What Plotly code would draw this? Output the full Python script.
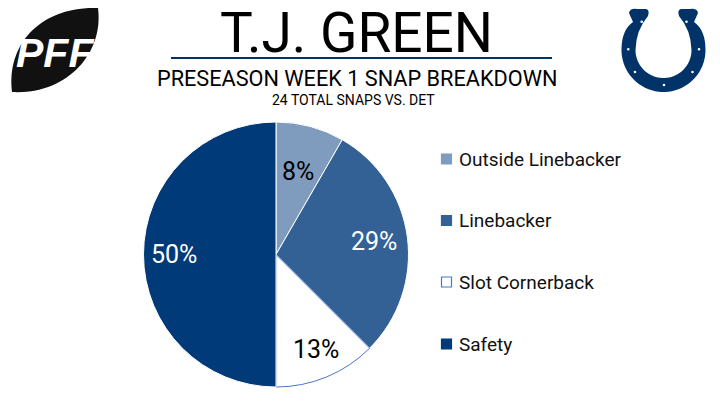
import numpy as np
import plotly.graph_objects as go

# ---- data ----
categories = ["Outside Linebacker", "Linebacker", "Slot Cornerback", "Safety"]
snaps = [2, 7, 3, 12]
slice_colors = ["#7F9CBE", "#336195", "#FFFFFF", "#003A78"]
line_colors = ["#FFFFFF", "#FFFFFF", "#4A78C8", "#FFFFFF"]
text_colors = ["#000000", "#FFFFFF", "#000000", "#FFFFFF"]
title_text = "T.J. GREEN"
subtitle_text = "PRESEASON WEEK 1 SNAP BREAKDOWN"
sub2_text = "24 TOTAL SNAPS VS. DET"

# label placement (style): radial fraction of each percentage label
label_rfrac = [0.65, 0.745, 0.78, 0.77]

W, H = 720, 405
FONT = "Roboto, 'Noto Sans', Arial, sans-serif"

fig = go.Figure()

# pie centred at (276, 254.5) px, radius 132.5 px
cxp, cyp, R = 276, 254.5, 132.5
fig.add_trace(go.Pie(
    labels=categories, values=snaps, sort=False, direction="clockwise", rotation=0,
    marker=dict(colors=slice_colors, line=dict(color=line_colors, width=1)),
    textinfo="none",
    domain=dict(x=[(cxp - R) / W, (cxp + R) / W], y=[(H - cyp - R) / H, (H - cyp + R) / H]),
    showlegend=False, hoverinfo="label+value+percent",
))

# hidden pixel axes for decorations
fig.update_layout(
    xaxis=dict(range=[0, W], visible=False, fixedrange=True, domain=[0, 1]),
    yaxis=dict(range=[H, 0], visible=False, fixedrange=True, domain=[0, 1]),
)

shapes = []
annotations = []

# percentage labels, placed at each slice's mid-angle
total = sum(snaps)
cum = np.cumsum([0] + snaps)
for i, v in enumerate(snaps):
    mid = (cum[i] + v / 2) / total * 2 * np.pi
    r = label_rfrac[i] * R
    annotations.append(dict(x=cxp + r * np.sin(mid), y=cyp - r * np.cos(mid), xref="x", yref="y",
                            text=f"{round(100 * v / total + 1e-9):.0f}%", showarrow=False,
                            xanchor="center", yanchor="middle",
                            font=dict(family=FONT, size=25, color=text_colors[i])))

# title
annotations.append(dict(x=356, y=33.2, xref="x", yref="y", text=title_text, showarrow=False,
                        xanchor="center", yanchor="middle",
                        font=dict(family=FONT, size=55, color="#000000")))
shapes.append(dict(type="line", xref="x", yref="y", x0=171, x1=552, y0=58, y1=58,
                   line=dict(color="#013369", width=2)))
annotations.append(dict(x=356.5, y=78, xref="x", yref="y", text=subtitle_text, showarrow=False,
                        xanchor="center", yanchor="middle",
                        font=dict(family=FONT, size=21.7, color="#000000")))
annotations.append(dict(x=353, y=100, xref="x", yref="y", text=sub2_text, showarrow=False,
                        xanchor="center", yanchor="middle",
                        font=dict(family=FONT, size=14, color="#000000")))

# legend
leg_y = [159, 220.5, 282, 344]
for cat, col, lc, y in zip(categories, slice_colors, line_colors, leg_y):
    border = lc if col == "#FFFFFF" else col
    shapes.append(dict(type="rect", xref="x", yref="y", x0=441.5, x1=451.5, y0=y - 5, y1=y + 5,
                       fillcolor=col, line=dict(color=border, width=1.2)))
    annotations.append(dict(x=457, y=y, xref="x", yref="y", text=cat, showarrow=False,
                            xanchor="left", yanchor="middle",
                            font=dict(family=FONT, size=19, color="#111111")))

# PFF logo (decoration)
shapes.append(dict(type="path", xref="x", yref="y",
                   path="M 12,92 C 6,45 40,6 98,8 C 104,55 65,95 12,92 Z",
                   fillcolor="#111111", line=dict(width=0)))
annotations.append(dict(x=55, y=53, xref="x", yref="y", text="<b><i>PFF</i></b>", showarrow=False,
                        xanchor="center", yanchor="middle",
                        font=dict(family="'Liberation Sans', Arial, sans-serif", size=41, color="#FFFFFF")))

# Colts horseshoe (decoration)
hx, hy, Ro, Ri = 663.5, 50, 42, 28
th_in = np.linspace(np.pi, 0, 40)
th_out = np.linspace(0, np.pi, 40)
inner = " ".join(f"L {hx + Ri*np.cos(t):.2f},{hy + Ri*np.sin(t):.2f}" for t in th_in)
outer = " ".join(f"L {hx + Ro*np.cos(t):.2f},{hy + Ro*np.sin(t):.2f}" for t in th_out)
path = ("M 629,13 Q 630,8 637,9 L 646,9 Q 650,10 648,16 Q 636,30 635.5,50 " + inner +
        " Q 691,30 679,16 Q 677,10 681,9 L 690,9 Q 697,8 698,13 L 694,22 Q 705.5,30 705.5,50 " + outer +
        " Q 621.5,30 633,22 Z")
shapes.append(dict(type="path", xref="x", yref="y", path=path, fillcolor="#013369", line=dict(width=0)))
for (dx, dy) in [(641.7, 21.7), (628.3, 49.3), (635, 72), (664, 85), (692.5, 72), (699, 49.3), (686.5, 21.7)]:
    shapes.append(dict(type="circle", xref="x", yref="y", x0=dx - 1.3, x1=dx + 1.3, y0=dy - 1.3, y1=dy + 1.3,
                       fillcolor="#FFFFFF", line=dict(width=0)))

fig.update_layout(
    width=W, height=H, margin=dict(l=0, r=0, t=0, b=0),
    paper_bgcolor="#FFFFFF", plot_bgcolor="#FFFFFF",
    shapes=shapes, annotations=annotations, showlegend=False,
)

fig.write_html("out.html", config={"displayModeBar": False},
               post_script="document.body.style.margin='0';document.body.style.overflow='hidden';")
